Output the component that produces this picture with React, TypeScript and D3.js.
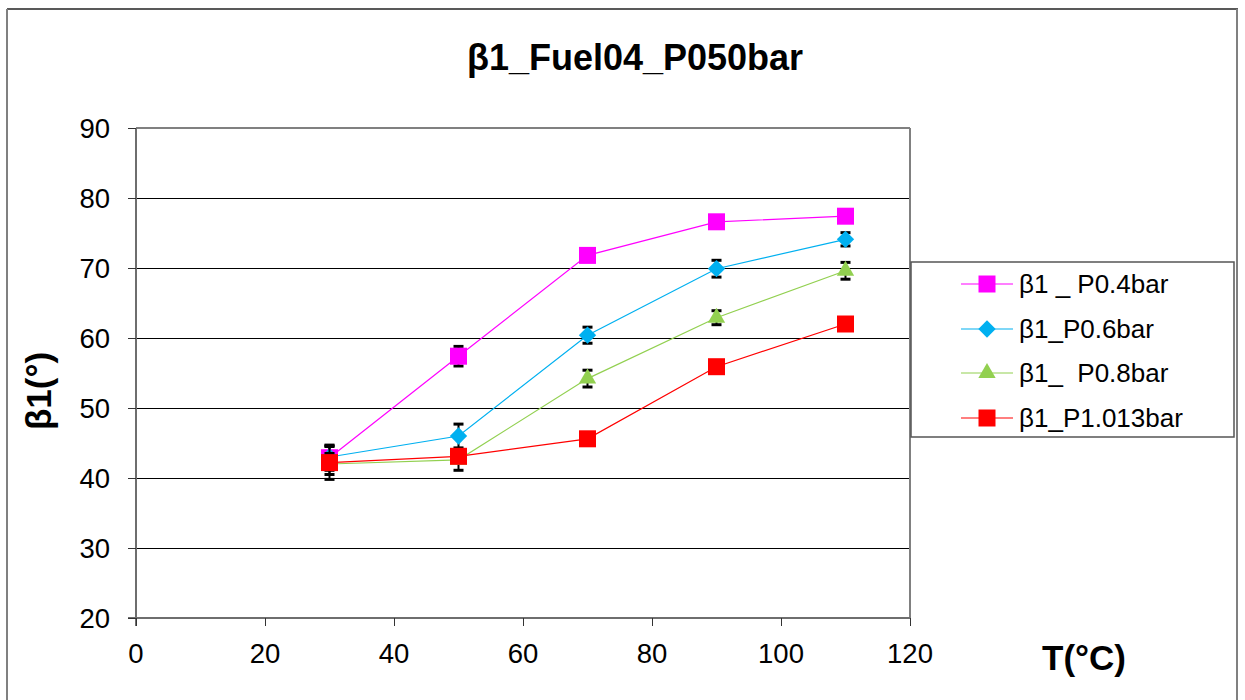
import React from 'react';
import * as d3 from 'd3';

const temps = [30, 50, 70, 90, 110];
const seriesNames = ['β1 _ P0.4bar', 'β1_P0.6bar', 'β1_  P0.8bar', 'β1_P1.013bar'];
const p04 = [42.9, 57.4, 71.8, 76.6, 77.4];
const p06 = [43.0, 46.0, 60.4, 69.9, 74.1];
const p08 = [42.0, 42.6, 54.2, 62.9, 69.6];
const p1013 = [42.2, 43.1, 45.6, 55.9, 62.0];
const err04 = [1.8, 1.4, 0.5, 0.5, 0.5];
const err06 = [1.5, 1.7, 1.15, 1.2, 0.95];
const err08 = [1.5, 1.5, 1.2, 1.0, 1.2];
const err1013 = [2.4, 0.6, 0.5, 0.6, 0.5];
const xTicks = [0, 20, 40, 60, 80, 100, 120];
const yTicks = [20, 30, 40, 50, 60, 70, 80, 90];

const colors = ['#ff00ff', '#00b0f0', '#92d050', '#ff0000'];
const shapes = ['square', 'diamond', 'triangle', 'square'];

const W = 1245, H = 700;
const plot = { left: 136, right: 910, top: 128, bottom: 618 };

function markerPath(shape: string) {
  if (shape === 'diamond') return d3.symbol(d3.symbolSquare, 150)() as string;
  if (shape === 'triangle') return d3.symbol(d3.symbolTriangle, 130)() as string;
  return d3.symbol(d3.symbolSquare, 289)() as string;
}

export default function App() {
  const x = d3.scaleLinear().domain([0, 120]).range([plot.left, plot.right]);
  const y = d3.scaleLinear().domain([20, 90]).range([plot.bottom, plot.top]);

  const values = [p04, p06, p08, p1013];
  const errors = [err04, err06, err08, err1013];
  const line = d3.line<number>().x((_, i) => x(temps[i])).y(d => y(d));

  const font = 'Arial, "Liberation Sans", sans-serif';

  const marker = (s: number, cx: number, cy: number, key: string) => (
    <path
      key={key}
      d={markerPath(shapes[s])}
      transform={`translate(${cx},${cy})${shapes[s] === 'diamond' ? ' rotate(45)' : ''}`}
      fill={colors[s]}
    />
  );

  const legendRows = [284, 329, 373, 418];

  return (
    <svg width={W} height={H} style={{ position: 'absolute', left: 0, top: 0, background: '#fff' }} fontFamily={font}>
      <rect x={0} y={0} width={W} height={H} fill="#fff" />
      {/* outer chart frame */}
      <line x1={7} x2={1238} y1={9} y2={9} stroke="#222" strokeWidth={1.5} />
      <line x1={7} x2={7} y1={9} y2={H} stroke="#808080" strokeWidth={2} />
      <line x1={1237} x2={1237} y1={9} y2={H} stroke="#808080" strokeWidth={2} />

      <text x={635} y={70} textAnchor="middle" fontSize={36} fontWeight="bold">β1_Fuel04_P050bar</text>

      {/* gridlines */}
      {yTicks.slice(1, -1).map(t => (
        <line key={'g' + t} x1={plot.left} x2={plot.right} y1={y(t) + 0.5} y2={y(t) + 0.5} stroke="#000" strokeWidth={1} />
      ))}
      {/* plot frame */}
      <line x1={plot.left} x2={plot.right} y1={plot.top} y2={plot.top} stroke="#808080" strokeWidth={2} />
      <line x1={plot.right} x2={plot.right} y1={plot.top} y2={plot.bottom} stroke="#808080" strokeWidth={2} />
      <line x1={plot.left} x2={plot.left} y1={plot.top} y2={plot.bottom + 8} stroke="#6e6e6e" strokeWidth={2} />
      <line x1={plot.left - 8} x2={plot.right} y1={plot.bottom} y2={plot.bottom} stroke="#6e6e6e" strokeWidth={2} />

      {/* y ticks */}
      {yTicks.map(t => (
        <g key={'y' + t}>
          <line x1={plot.left - 8} x2={plot.left} y1={y(t) + 0.5} y2={y(t) + 0.5} stroke="#333" strokeWidth={1} />
          <text x={110} y={y(t) + 9.5} textAnchor="end" fontSize={27.5}>{t}</text>
        </g>
      ))}
      {/* x ticks */}
      {xTicks.map(t => (
        <g key={'x' + t}>
          <line x1={x(t) + 0.5} x2={x(t) + 0.5} y1={plot.bottom} y2={plot.bottom + 8} stroke="#333" strokeWidth={1} />
          <text x={x(t)} y={663} textAnchor="middle" fontSize={27.5}>{t}</text>
        </g>
      ))}

      <text transform="translate(51,391) rotate(-90)" textAnchor="middle" fontSize={35} fontWeight="bold">β1(°)</text>
      <text x={1042} y={670} fontSize={35} fontWeight="bold">T(°C)</text>

      {/* series */}
      {values.map((vals, s) => (
        <g key={'s' + s}>
          <path d={line(vals) as string} fill="none" stroke={colors[s]} strokeWidth={1.2} />
          {vals.map((v, i) => {
            const cx = x(temps[i]);
            const e = errors[s][i];
            return (
              <g key={'e' + i} stroke="#000">
                <line x1={cx} x2={cx} y1={y(v + e)} y2={y(v - e)} strokeWidth={2} />
                <line x1={cx - 5} x2={cx + 5} y1={y(v + e)} y2={y(v + e)} strokeWidth={3} />
                <line x1={cx - 5} x2={cx + 5} y1={y(v - e)} y2={y(v - e)} strokeWidth={3} />
              </g>
            );
          })}
          {vals.map((v, i) => marker(s, x(temps[i]), y(v), 'm' + i))}
        </g>
      ))}

      {/* legend */}
      <rect x={911} y={262} width={323} height={175} fill="#fff" stroke="#555" strokeWidth={1.5} />
      {seriesNames.map((name, s) => (
        <g key={'l' + s}>
          <line x1={961} x2={1013} y1={legendRows[s]} y2={legendRows[s]} stroke={colors[s]} strokeWidth={1.2} />
          {marker(s, 987, legendRows[s], 'lm')}
          <text x={1019} y={legendRows[s] + 9} fontSize={26} style={{ whiteSpace: 'pre' }}>{name}</text>
        </g>
      ))}
    </svg>
  );
}
